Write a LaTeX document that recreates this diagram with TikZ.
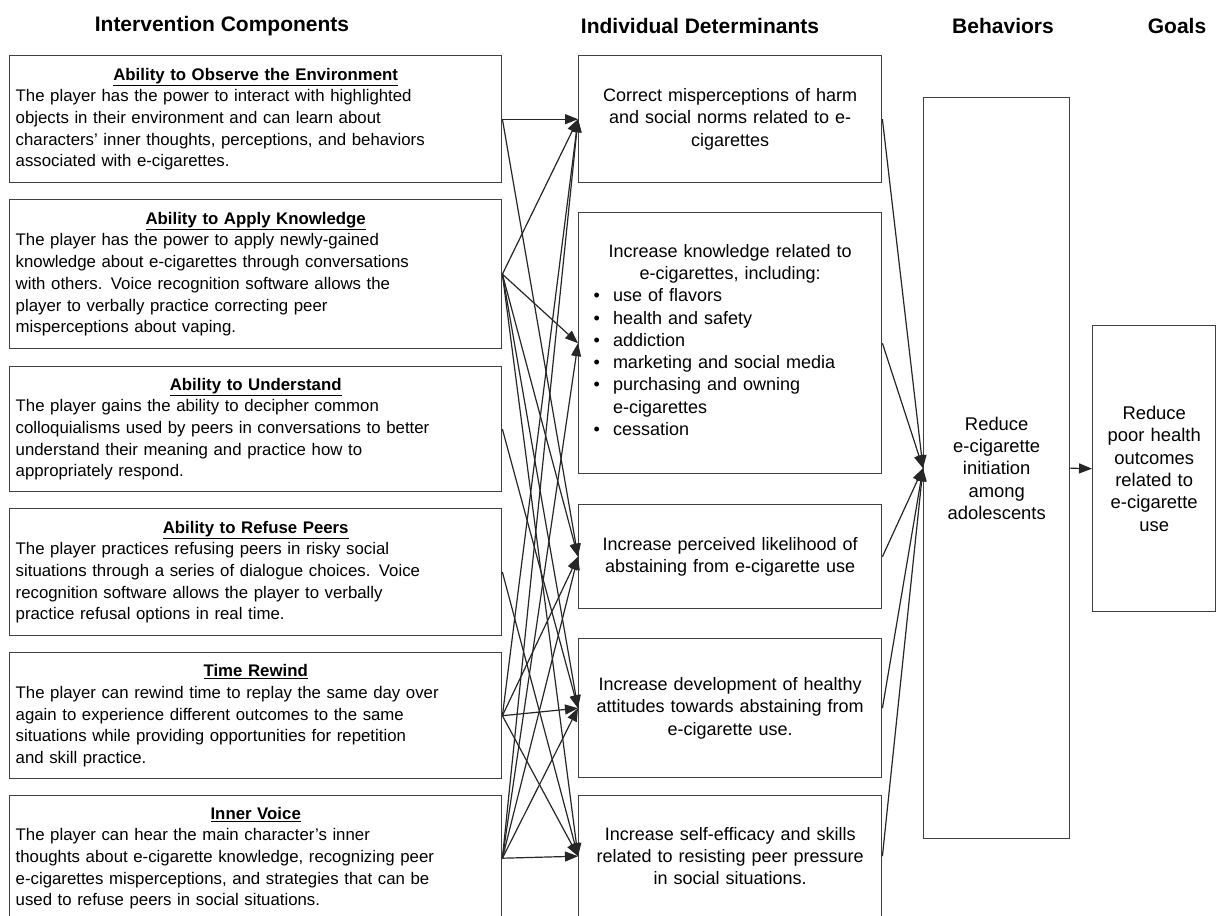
\documentclass[tikz,border=0pt]{standalone}
\usepackage{fontspec}
\setmainfont{Liberation Sans}
\usetikzlibrary{arrows.meta}

\newcommand{\comptext}[2]{{\centering\textbf{\underline{#1}}\par}#2}

\begin{document}
\begin{tikzpicture}[x=1pt, y=-1pt,
    box/.style={draw=black!75, line width=1.4pt, anchor=north west, inner ysep=0pt},
    comp/.style={box, text width=480pt, inner xsep=6pt, align=left,
      font=\fontsize{16.8}{21.7}\selectfont},
    determ/.style={box, text width=287pt, inner xsep=8pt, align=center,
      font=\fontsize{18}{22.3}\selectfont},
    outc/.style={box, inner xsep=4pt, align=center,
      font=\fontsize{18.4}{22.3}\selectfont},
    head/.style={font=\fontsize{21}{25}\selectfont\bfseries},
    conn/.style={draw=black!85, line width=1.2pt, -{Triangle[length=13pt,width=10pt]}}]
  \useasboundingbox (0,0) rectangle (1216,916);
  \clip (0,0) rectangle (1216,916);

  % column heads
  \node[head] (hcomp) at (222,26) {Intervention Components};
  \node[head] (hdet) at (700,26) {Individual Determinants};
  \node[head] (hbeh) at (1003,26) {Behaviors};
  \node[head] (hgoal) at (1177,26) {Goals};

  % intervention components
  \node[comp, minimum height=127pt] (obs) at (9,55) {\comptext{Ability to Observe the Environment}{%
    The player has the power to interact with highlighted\\
    objects in their environment and can learn about\\
    characters' inner thoughts, perceptions, and behaviors\\
    associated with e-cigarettes.}};
  \node[comp, minimum height=149pt] (apply) at (9,199) {\comptext{Ability to Apply Knowledge}{%
    The player has the power to apply newly-gained\\
    knowledge about e-cigarettes through conversations\\
    with others. Voice recognition software allows the\\
    player to verbally practice correcting peer\\
    misperceptions about vaping.}};
  \node[comp, minimum height=125pt] (underst) at (9,366) {\comptext{Ability to Understand}{%
    The player gains the ability to decipher common\\
    colloquialisms used by peers in conversations to better\\
    understand their meaning and practice how to\\
    appropriately respond.}};
  \node[comp, minimum height=127pt] (refuse) at (9,508) {\comptext{Ability to Refuse Peers}{%
    The player practices refusing peers in risky social\\
    situations through a series of dialogue choices. Voice\\
    recognition software allows the player to verbally\\
    practice refusal options in real time.}};
  \node[comp, minimum height=126pt] (rewind) at (9,652) {\comptext{Time Rewind}{%
    The player can rewind time to replay the same day over\\
    again to experience different outcomes to the same\\
    situations while providing opportunities for repetition\\
    and skill practice.}};
  \node[comp, minimum height=125pt] (voice) at (9,795) {\comptext{Inner Voice}{%
    The player can hear the main character's inner\\
    thoughts about e-cigarette knowledge, recognizing peer\\
    e-cigarettes misperceptions, and strategies that can be\\
    used to refuse peers in social situations.}};

  % individual determinants
  \node[determ, minimum height=127pt] (misperc) at (578,55)
    {Correct misperceptions of harm\\ and social norms related to e-\\ cigarettes};
  \node[determ, minimum height=261pt] (knowl) at (578,212)
    {{Increase knowledge related to\\ e-cigarettes, including:\par}
     \hspace*{7pt}\begin{tabular}[t]{@{}l@{\hspace{13pt}}l@{}}
       \textbullet & use of flavors\\
       \textbullet & health and safety\\
       \textbullet & addiction\\
       \textbullet & marketing and social media\\
       \textbullet & purchasing and owning\\
                   & e-cigarettes\\
       \textbullet & cessation
     \end{tabular}\hfill\null};
  \node[determ, minimum height=104pt] (likel) at (578,504)
    {Increase perceived likelihood of\\ abstaining from e-cigarette use};
  \node[determ, minimum height=139pt] (attit) at (578,638)
    {Increase development of healthy\\ attitudes towards abstaining from\\ e-cigarette use.};
  \node[determ, minimum height=121pt] (effic) at (578,795)
    {Increase self-efficacy and skills\\ related to resisting peer pressure\\ in social situations.};

  % behavior and goal
  \node[outc, text width=138pt, minimum height=741pt] (behav) at (923,97)
    {Reduce\\ e-cigarette\\ initiation\\ among\\ adolescents};
  \node[outc, text width=115pt, minimum height=286pt] (goal) at (1092,325)
    {Reduce\\ poor health\\ outcomes\\ related to\\ e-cigarette\\ use};

  \foreach \s/\t in {obs/misperc, obs/likel,
      apply/misperc, apply/knowl, apply/likel, apply/attit, apply/effic,
      underst/attit, refuse/effic,
      rewind/misperc, rewind/likel, rewind/attit, rewind/effic,
      voice/misperc, voice/knowl, voice/likel, voice/attit, voice/effic}
    \draw[conn] (\s.east) -- (\t.west);
  \foreach \m in {misperc, knowl, likel, attit, effic}
    \draw[conn] (\m.east) -- (behav.west);
  \draw[conn] (behav.east) -- (goal.west);
\end{tikzpicture}
\end{document}
